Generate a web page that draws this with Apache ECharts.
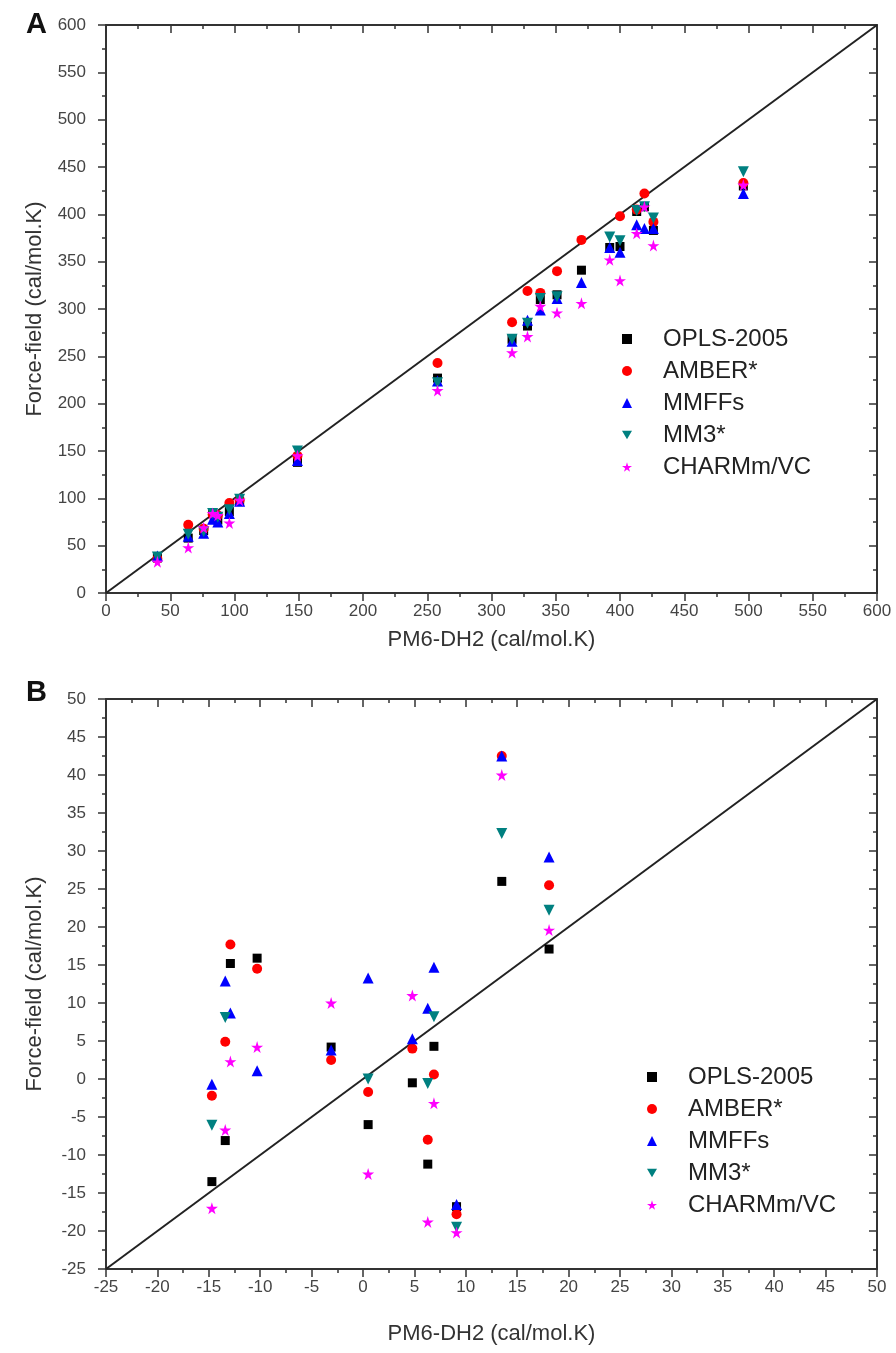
<!DOCTYPE html>
<html>
<head>
<meta charset="utf-8">
<script src="https://cdn.jsdelivr.net/npm/echarts@6/dist/echarts.min.js"></script>
<style>
html,body{margin:0;padding:0;background:#fff;}
#chart{width:896px;height:1353px;}
</style>
</head>
<body>
<div id="chart"></div>
<script>
// ---------- DATA ----------
const seriesNames = ['OPLS-2005', 'AMBER*', 'MMFFs', 'MM3*', 'CHARMm/VC'];

// Panel A
const xA = [40, 64, 76, 83, 87, 96, 104, 149, 258, 316, 328, 338, 351, 370, 392, 400, 413, 419, 426, 496];
const oplsA  = [37, 58, 66, 84, 77, 86, 97, 138, 227, 268, 282, 310, 315, 341, 365, 366, 403, 408, 383, 430];
const amberA = [36, 72, 68, 83, 82, 95, 98, 145, 243, 286, 319, 317, 340, 373, null, 398, 405, 422, 392, 433];
const mmffA  = [39, 60, 63, 78, 75, 84, 97, 140, 224, 266, 288, 299, 311, 328, 365, 360, 389, 385, 385, 422];
const mm3A   = [38, 62, 65, 84, 80, 88, 99, 150, 222, 268, 285, 311, 313, null, 376, 372, 404, 408, 396, 445];
const charmA = [33, 48, 69, 84, 82, 74, 98, 145, 214, 254, 271, 303, 296, 306, 352, 330, 380, 408, 367, 431];
const diagA = [0, 600];

// Panel B
const xB = [-14.7, -13.4, -12.9, -10.3, -3.1, 0.5, 4.8, 6.3, 6.9, 9.1, 13.5, 18.1];
const oplsB  = [-13.5, -8.1, 15.2, 15.9, 4.2, -6.0, -0.5, -11.2, 4.3, -16.8, 26.0, 17.1];
const amberB = [-2.2, 4.9, 17.7, 14.5, 2.5, -1.7, 4.0, -8.0, 0.6, -17.8, 42.5, 25.5];
const mmffB  = [-0.7, 12.9, 8.7, 1.1, 3.8, 13.3, 5.3, 9.3, 14.7, -16.5, 42.5, 29.2];
const mm3B   = [-6.1, 8.1, null, null, null, 0.0, null, -0.6, 8.2, -19.5, 32.3, 22.2];
const charmB = [-17.0, -6.7, 2.3, 4.2, 10.0, -12.5, 11.0, -18.8, -3.2, -20.2, 40.0, 19.6];
const diagB = [-25, 50];

// ---------- STYLE ----------
const FONT = '"Liberation Sans", Arial, sans-serif';
const STAR = 'path://M50,0 L61,35 L98,35 L68,57 L79,91 L50,70 L21,91 L32,57 L2,35 L39,35 Z';
const DOWN_TRI = 'path://M0,0 L100,0 L50,87 Z';
const styles = [
  {symbol: 'rect', size: 9, color: '#000000'},
  {symbol: 'circle', size: 10, color: '#ff0000'},
  {symbol: 'triangle', size: 11, color: '#0000ff'},
  {symbol: DOWN_TRI, size: 11, color: '#008080'},
  {symbol: STAR, size: 12, color: '#ff00ff'}
];

function pairs(xs, ys) {
  const out = [];
  for (let i = 0; i < xs.length; i++) if (ys[i] !== null) out.push([xs[i], ys[i]]);
  return out;
}

const axisColor = '#333';
function xAxes(grid, min, max, interval, nameGap) {
  const base = {
    gridIndex: grid, type: 'value', min: min, max: max, interval: interval,
    axisLine: {show: true, onZero: false, lineStyle: {color: axisColor, width: 2}},
    splitLine: {show: false},
    minorTick: {show: true, splitNumber: 2, length: 4, lineStyle: {color: axisColor, width: 1.5}},
    minorSplitLine: {show: false}
  };
  return [
    Object.assign({}, base, {
      position: 'bottom',
      axisTick: {show: true, inside: false, length: 8, lineStyle: {color: axisColor, width: 1.5}},
      axisLabel: {show: true, fontSize: 17, color: '#444', fontFamily: FONT, margin: 10},
      name: 'PM6-DH2 (cal/mol.K)', nameLocation: 'middle', nameGap: nameGap,
      nameTextStyle: {fontSize: 22, color: '#333', fontFamily: FONT}
    }),
    Object.assign({}, base, {
      position: 'top',
      axisTick: {show: true, inside: true, length: 8, lineStyle: {color: axisColor, width: 1.5}},
      axisLabel: {show: false}
    })
  ];
}
function yAxes(grid, min, max, interval) {
  const base = {
    gridIndex: grid, type: 'value', min: min, max: max, interval: interval,
    axisLine: {show: true, onZero: false, lineStyle: {color: axisColor, width: 2}},
    splitLine: {show: false},
    minorTick: {show: true, splitNumber: 2, length: 4, lineStyle: {color: axisColor, width: 1.5}},
    minorSplitLine: {show: false}
  };
  return [
    Object.assign({}, base, {
      position: 'left',
      axisTick: {show: true, inside: false, length: 8, lineStyle: {color: axisColor, width: 1.5}},
      axisLabel: {show: true, fontSize: 17, color: '#444', fontFamily: FONT, margin: 20},
      name: 'Force-field (cal/mol.K)', nameLocation: 'middle', nameGap: 60,
      nameTextStyle: {fontSize: 22, color: '#333', fontFamily: FONT}
    }),
    Object.assign({}, base, {
      position: 'right',
      axisTick: {show: true, inside: true, length: 8, lineStyle: {color: axisColor, width: 1.5}},
      axisLabel: {show: false}
    })
  ];
}

const dataA = [oplsA, amberA, mmffA, mm3A, charmA];
const dataB = [oplsB, amberB, mmffB, mm3B, charmB];

const series = [];
series.push({
  type: 'line', xAxisIndex: 0, yAxisIndex: 0, data: [[diagA[0], diagA[0]], [diagA[1], diagA[1]]],
  symbol: 'none', silent: true, z: 1, lineStyle: {color: '#222', width: 2}
});
series.push({
  type: 'line', xAxisIndex: 2, yAxisIndex: 2, data: [[diagB[0], diagB[0]], [diagB[1], diagB[1]]],
  symbol: 'none', silent: true, z: 1, lineStyle: {color: '#222', width: 2}
});
seriesNames.forEach((nm, i) => {
  series.push({
    name: nm, type: 'scatter', xAxisIndex: 0, yAxisIndex: 0,
    symbol: styles[i].symbol, symbolSize: styles[i].size,
    itemStyle: {color: styles[i].color, opacity: 1}, z: 2,
    data: pairs(xA, dataA[i])
  });
});
seriesNames.forEach((nm, i) => {
  series.push({
    name: nm, type: 'scatter', xAxisIndex: 2, yAxisIndex: 2,
    symbol: styles[i].symbol, symbolSize: styles[i].size,
    itemStyle: {color: styles[i].color, opacity: 1}, z: 2,
    data: pairs(xB, dataB[i])
  });
});

const legendBase = {
  orient: 'vertical', itemWidth: 10, itemHeight: 10, selectedMode: false, padding: 0,
  textStyle: {fontSize: 24, color: '#222', fontFamily: FONT, padding: [0, 0, 0, 26]},
  data: seriesNames
};

const chart = echarts.init(document.getElementById('chart'), null, {renderer: 'canvas'});
chart.setOption({
  backgroundColor: '#fff',
  animation: false,
  grid: [
    {left: 106, top: 25, width: 771, height: 568},
    {left: 106, top: 699, width: 771, height: 570}
  ],
  xAxis: [].concat(xAxes(0, 0, 600, 50, 36), xAxes(1, -25, 50, 5, 54)),
  yAxis: [].concat(yAxes(0, 0, 600, 50), yAxes(1, -25, 50, 5)),
  legend: [
    Object.assign({}, legendBase, {left: 622, top: 327, itemGap: 8}),
    Object.assign({}, legendBase, {left: 647, top: 1065, itemGap: 8})
  ],
  graphic: [
    {type: 'text', left: 26, top: 10, style: {text: 'A', fontSize: 29, fontWeight: 'bold', fill: '#111', fontFamily: FONT}},
    {type: 'text', left: 26, top: 678, style: {text: 'B', fontSize: 29, fontWeight: 'bold', fill: '#111', fontFamily: FONT}}
  ],
  series: series
});
</script>
</body>
</html>
